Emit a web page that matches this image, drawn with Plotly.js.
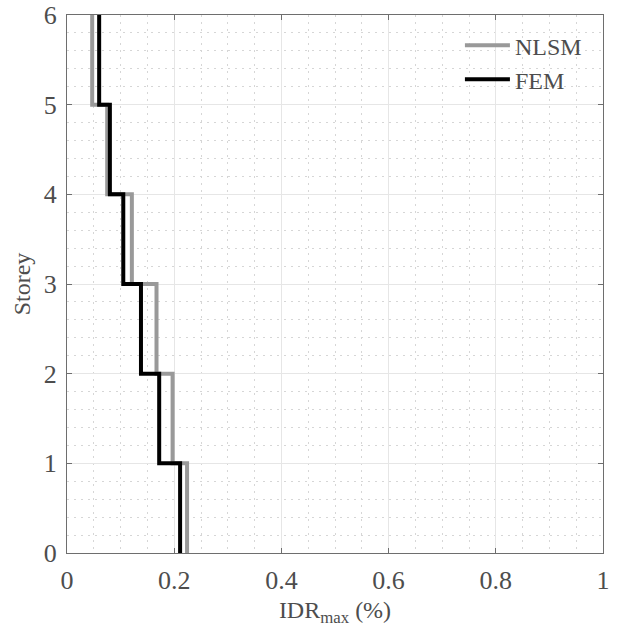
<!DOCTYPE html>
<html>
<head>
<meta charset="utf-8">
<script src="https://cdn.plot.ly/plotly-3.0.1.min.js"></script>
<style>html,body{margin:0;padding:0;background:#fff;}#chart{width:618px;height:633px;}</style>
</head>
<body>
<div id="chart"></div>
<script>
// Storey boundaries and max inter-storey drift ratio (%) per storey (storey 1..6)
const storeyLevels = [0, 1, 2, 3, 4, 5, 6];
const nlsmIDR = [0.224, 0.197, 0.167, 0.121, 0.075, 0.047];
const femIDR  = [0.211, 0.172, 0.138, 0.105, 0.080, 0.060];
const xTicks = [0, 0.2, 0.4, 0.6, 0.8, 1];
const yTicks = [0, 1, 2, 3, 4, 5, 6];

function stepXY(vals) {
  const x = vals.slice(); x.push(vals[vals.length - 1]);
  return { x: x, y: storeyLevels.slice() };
}
const n = stepXY(nlsmIDR), f = stepXY(femIDR);

const font = '"Liberation Serif", "Times New Roman", Times, serif';
const txtColor = '#4d4d4d';
const traces = [
  { x: n.x, y: n.y, type: 'scatter', mode: 'lines', name: 'NLSM',
    line: { shape: 'vh', color: '#999999', width: 4 } },
  { x: f.x, y: f.y, type: 'scatter', mode: 'lines', name: 'FEM',
    line: { shape: 'vh', color: '#000000', width: 4 } }
];

const axisCommon = {
  showline: true, mirror: 'ticks', linecolor: '#6e6e6e', linewidth: 1,
  ticks: 'inside', ticklen: 5, tickcolor: '#6e6e6e',
  showgrid: true, gridcolor: '#e6e6e6', gridwidth: 1,
  zeroline: false,
  tickfont: { family: font, size: 26, color: txtColor }
};
const minorCommon = { showgrid: true, gridcolor: '#d6d6d6', griddash: '2px,5px', gridwidth: 1, ticks: '' };

const layout = {
  width: 618, height: 633,
  margin: { l: 67, r: 15, t: 15, b: 80 },
  font: { family: font, size: 24, color: txtColor },
  paper_bgcolor: '#fff', plot_bgcolor: '#fff',
  showlegend: true,
  legend: { x: 0.97, y: 0.985, xanchor: 'right', yanchor: 'top',
            bgcolor: 'rgba(255,255,255,0)', borderwidth: 0, itemwidth: 45,
            font: { family: font, size: 24, color: txtColor } },
  xaxis: Object.assign({}, axisCommon, {
    range: [0, 1], tickvals: xTicks, ticktext: xTicks.map(String),
    ticklabelstandoff: 4,
    minor: Object.assign({ dtick: 0.05 }, minorCommon),
    title: { text: 'IDR<sub>max</sub> (%)', font: { family: font, size: 24, color: txtColor }, standoff: 6 }
  }),
  yaxis: Object.assign({}, axisCommon, {
    range: [0, 6], tickvals: yTicks, ticktext: yTicks.map(String),
    ticklabelstandoff: 4,
    minor: Object.assign({ dtick: 0.2 }, minorCommon),
    title: { text: 'Storey', font: { family: font, size: 24, color: txtColor }, standoff: 6 }
  })
};

Plotly.newPlot('chart', traces, layout, { displayModeBar: false, staticPlot: true });
</script>
</body>
</html>
